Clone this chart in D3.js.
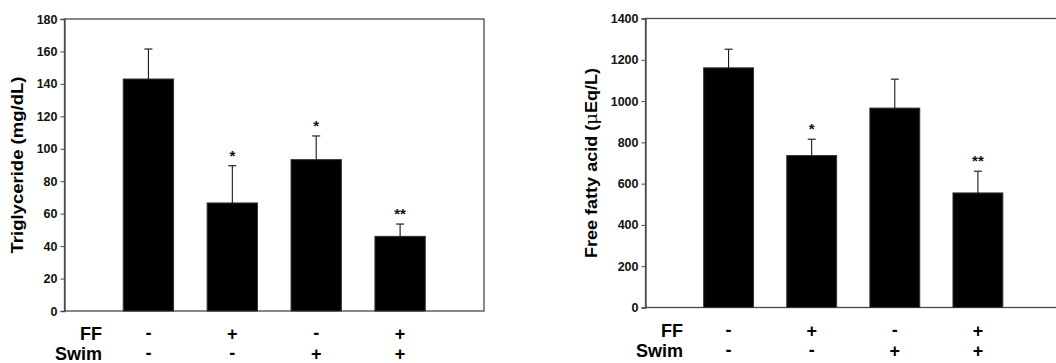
<!DOCTYPE html>
<html>
<head>
<meta charset="utf-8">
<script src="https://cdn.jsdelivr.net/npm/d3@7"></script>
<style>
  html, body { margin: 0; padding: 0; background: #fff; }
  svg { display: block; }
  text { font-family: "Liberation Sans", Arial, sans-serif; }
</style>
</head>
<body>
<div id="chart"></div>
<script>
// groups (treatment signs under each bar)
const ffSigns = ['-', '+', '-', '+'];
const swimSigns = ['-', '-', '+', '+'];

// Triglyceride panel
const tgMean = [143, 66.6, 93.3, 46];
const tgSem = [18.5, 23, 14.6, 7.6];
const tgSig = ['', '*', '*', '**'];
const tgTicks = [0, 20, 40, 60, 80, 100, 120, 140, 160, 180];

// Free fatty acid panel
const ffaMean = [1161, 736, 966, 555];
const ffaSem = [90, 79, 140, 105];
const ffaSig = ['', '*', '', '**'];
const ffaTicks = [0, 200, 400, 600, 800, 1000, 1200, 1400];

const W = 1056, H = 363;

const svg = d3.select('#chart').append('svg')
  .attr('width', W)
  .attr('height', H);

function drawPanel(opt) {
  const g = svg.append('g');
  const x = d3.scaleLinear().domain([0, 5]).range([opt.left, opt.right]);
  const y = d3.scaleLinear().domain([0, opt.max]).range([opt.bottom, opt.top]);
  const barW = x(0.6) - x(0);

  // frame
  g.append('rect')
    .attr('x', opt.left)
    .attr('y', opt.top)
    .attr('width', opt.right - opt.left)
    .attr('height', opt.bottom - opt.top)
    .attr('fill', 'none')
    .attr('stroke', '#4a4a4a')
    .attr('stroke-width', 1.3);

  // y axis
  const yAxis = d3.axisLeft(y)
    .tickValues(opt.ticks)
    .tickFormat(d3.format('d'))
    .tickSize(4)
    .tickPadding(3);
  const ax = g.append('g')
    .attr('transform', `translate(${opt.left},0)`)
    .call(yAxis);
  ax.select('.domain').attr('stroke', '#4a4a4a').attr('stroke-width', 1.3);
  ax.selectAll('.tick line').attr('stroke', '#4a4a4a');
  ax.selectAll('.tick text')
    .style('font-size', '12.5px')
    .style('font-weight', 'bold')
    .attr('fill', '#111');

  const idx = d3.range(opt.mean.length);

  // bars
  g.selectAll('.bar')
    .data(idx)
    .enter().append('rect')
    .attr('class', 'bar')
    .attr('x', i => x(i + 1) - barW / 2)
    .attr('y', i => y(opt.mean[i]))
    .attr('width', barW)
    .attr('height', i => y(0) - y(opt.mean[i]))
    .attr('fill', '#000')
    .attr('stroke', '#333')
    .attr('stroke-width', 1);

  // error bars (upper only)
  g.selectAll('.err')
    .data(idx)
    .enter().append('line')
    .attr('x1', i => x(i + 1))
    .attr('x2', i => x(i + 1))
    .attr('y1', i => y(opt.mean[i]))
    .attr('y2', i => y(opt.mean[i] + opt.sem[i]))
    .attr('stroke', '#000')
    .attr('stroke-width', 1);

  g.selectAll('.cap')
    .data(idx)
    .enter().append('line')
    .attr('x1', i => x(i + 1) - 4)
    .attr('x2', i => x(i + 1) + 4)
    .attr('y1', i => y(opt.mean[i] + opt.sem[i]))
    .attr('y2', i => y(opt.mean[i] + opt.sem[i]))
    .attr('stroke', '#333')
    .attr('stroke-width', 1.3);

  // significance stars
  g.selectAll('.sig')
    .data(idx)
    .enter().append('text')
    .attr('x', i => x(i + 1))
    .attr('y', i => y(opt.mean[i] + opt.sem[i]) - 5)
    .attr('text-anchor', 'middle')
    .style('font-size', '15px')
    .style('font-weight', 'bold')
    .attr('fill', '#111')
    .text(i => opt.sig[i]);

  // y title
  g.append('text')
    .attr('transform', `translate(${opt.titleX},${opt.titleY}) rotate(-90)`)
    .attr('text-anchor', 'middle')
    .attr('dominant-baseline', 'central')
    .attr('textLength', opt.titleLen)
    .attr('lengthAdjust', 'spacingAndGlyphs')
    .style('font-size', '17px')
    .style('font-weight', 'bold')
    .html(opt.title);

  // treatment rows
  const rows = [
    { label: 'FF', signs: ffSigns, y: opt.bottom + 29 },
    { label: 'Swim', signs: swimSigns, y: opt.bottom + 49 }
  ];
  rows.forEach(r => {
    g.append('text')
      .attr('x', opt.labelRight)
      .attr('y', r.y)
      .attr('text-anchor', 'end')
      .style('font-size', '18px')
      .style('font-weight', 'bold')
      .text(r.label);
    g.selectAll(null)
      .data(r.signs)
      .enter().append('text')
      .attr('x', (d, i) => x(i + 1))
      .attr('y', d => d === '-' ? r.y - 1 : r.y)
      .attr('text-anchor', 'middle')
      .style('font-size', '18px')
      .style('font-weight', 'bold')
      .text(d => d);
  });
}

drawPanel({
  left: 64.5, right: 484, top: 19, bottom: 311, max: 180,
  ticks: tgTicks, mean: tgMean, sem: tgSem, sig: tgSig,
  title: 'Triglyceride (mg/dL)', titleX: 17, titleY: 165, titleLen: 177,
  labelRight: 102
});

drawPanel({
  left: 645.5, right: 1061, top: 18.5, bottom: 307.5, max: 1400,
  ticks: ffaTicks, mean: ffaMean, sem: ffaSem, sig: ffaSig,
  title: 'Free fatty acid (<tspan style="font-family: \'DejaVu Serif\', serif; font-weight: normal">μ</tspan>Eq/L)',
  titleX: 591, titleY: 163, titleLen: 190,
  labelRight: 683
});
</script>
</body>
</html>
